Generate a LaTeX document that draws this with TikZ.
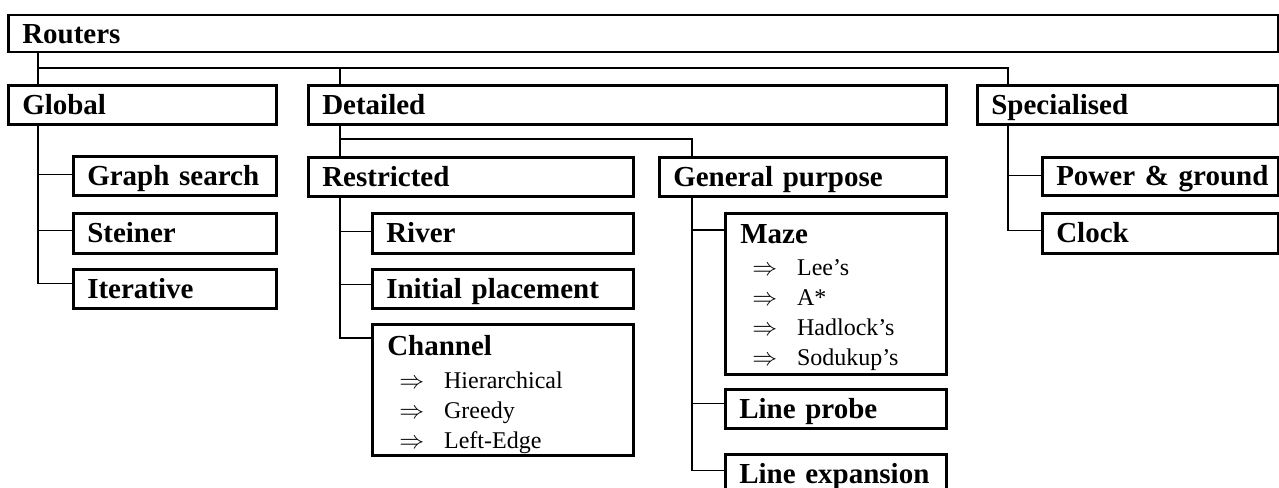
\documentclass[tikz,border=0pt]{standalone}
\usepackage{fontspec}
\setmainfont{Liberation Serif}
\begin{document}
\newcommand{\ritem}[1]{\par\hspace*{12pt}$\Rightarrow$\hspace{20pt}#1}
\begin{tikzpicture}[x=1pt, y=-1pt,
  box/.style={draw, line width=2.5pt, fill=white, anchor=north west, inner sep=0pt},
  head/.style={box, font=\fontsize{29}{30}\selectfont\bfseries, inner xsep=14pt,
               text height=23pt, text depth=4pt, align=left},
  listbox/.style={box, inner xsep=15pt, inner ysep=11pt},
  conn/.style={line width=1.3pt, line cap=rect}]
\useasboundingbox (0,0) rectangle (1279,487);

% top level
\node[head, minimum height=37pt, text width=1242pt] (routers) at (7,14) {Routers};
\node[head, minimum height=39pt, text width=240pt] (global) at (7,84) {Global};
\node[head, minimum height=39pt, text width=610pt] (detailed) at (307,84) {Detailed};
\node[head, minimum height=39pt, text width=273pt] (special) at (976,84) {Specialised};

% global routers
\node[head, minimum height=39pt, text width=175pt] (graph) at (72,155) {Graph search};
\node[head, minimum height=40pt, text width=175pt] (steiner) at (72,212) {Steiner};
\node[head, minimum height=39pt, text width=175pt] (iter) at (72,268) {Iterative};

% detailed routers
\node[head, minimum height=39pt, text width=297pt] (restr) at (307,156) {Restricted};
\node[head, minimum height=39pt, text width=259pt] (general) at (658,156) {General purpose};
\node[head, minimum height=40pt, text width=233pt] (river) at (371,212) {River};
\node[head, minimum height=39pt, text width=233pt] (initial) at (371,268) {Initial placement};
\node[listbox] (channel) at (371,323) {\parbox[t][109pt][t]{231pt}{%
  \fontsize{29}{30}\selectfont\bfseries Channel\par\vspace{3pt}
  \fontsize{24}{30}\selectfont\mdseries
  \ritem{Hierarchical}\ritem{Greedy}\ritem{Left-Edge}}};
\node[listbox] (maze) at (724,212) {\parbox[t][139pt][t]{191pt}{%
  \fontsize{29}{30}\selectfont\bfseries Maze\par\vspace{2pt}
  \fontsize{24}{30}\selectfont\mdseries
  \ritem{Lee’s}\ritem{A*}\ritem{Hadlock’s}\ritem{Sodukup’s}}};
\node[head, minimum height=39pt, text width=193pt] (probe) at (724,388) {Line probe};
\node[head, minimum height=40pt, text width=193pt] (expan) at (724,453) {Line expansion};

% specialised routers
\node[head, minimum height=38pt, text width=208pt] (power) at (1041,156) {\mbox{Power \& ground}};
\node[head, minimum height=40pt, text width=208pt] (clock) at (1041,212) {Clock};

% spines and attachment points
\coordinate (bus) at (0,68);
\coordinate (dbus) at (0,139);
\coordinate (gsp) at ([xshift=31pt]global.south west);
\coordinate (dsp) at ([xshift=33pt]detailed.south west);
\coordinate (rsp) at ([xshift=33pt]restr.south west);
\coordinate (psp) at ([xshift=34pt]general.south west);
\coordinate (ssp) at ([xshift=32pt]special.south west);
\coordinate (graphA) at ([yshift=1.5pt]graph.west);
\coordinate (steinerA) at ([yshift=3pt]steiner.west);
\coordinate (iterA) at ([yshift=5.5pt]iter.west);
\coordinate (riverA) at ([yshift=2pt]river.west);
\coordinate (initialA) at ([yshift=4.5pt]initial.west);
\coordinate (channelA) at ([yshift=-15pt]channel.north west);
\coordinate (mazeA) at ([yshift=-18pt]maze.north west);
\coordinate (probeA) at ([yshift=5.5pt]probe.west);
\coordinate (expanA) at ([yshift=4pt]expan.west);
\coordinate (powerA) at ([yshift=1pt]power.west);
\coordinate (clockA) at ([yshift=3pt]clock.west);

% top bus
\draw[conn] ([xshift=31pt]global.north west |- routers.south) -- ([xshift=31pt]global.north west);
\draw[conn] ([xshift=31pt]global.north west |- bus) -| ([xshift=32pt]special.north west);
\draw[conn] ([xshift=33pt]detailed.north west |- bus) -- ([xshift=33pt]detailed.north west);

% global children
\draw[conn] (gsp) |- (iterA);
\draw[conn] (gsp |- graphA) -- (graphA);
\draw[conn] (gsp |- steinerA) -- (steinerA);

% detailed children
\draw[conn] (dsp) -- ([xshift=33pt]restr.north west);
\draw[conn] (dsp |- dbus) -| ([xshift=34pt]general.north west);

% restricted children
\draw[conn] (rsp) |- (channelA);
\draw[conn] (rsp |- riverA) -- (riverA);
\draw[conn] (rsp |- initialA) -- (initialA);

% general purpose children
\draw[conn] (psp) |- (expanA);
\draw[conn] (psp |- mazeA) -- (mazeA);
\draw[conn] (psp |- probeA) -- (probeA);

% specialised children
\draw[conn] (ssp) |- (clockA);
\draw[conn] (ssp |- powerA) -- (powerA);
\end{tikzpicture}
\end{document}
